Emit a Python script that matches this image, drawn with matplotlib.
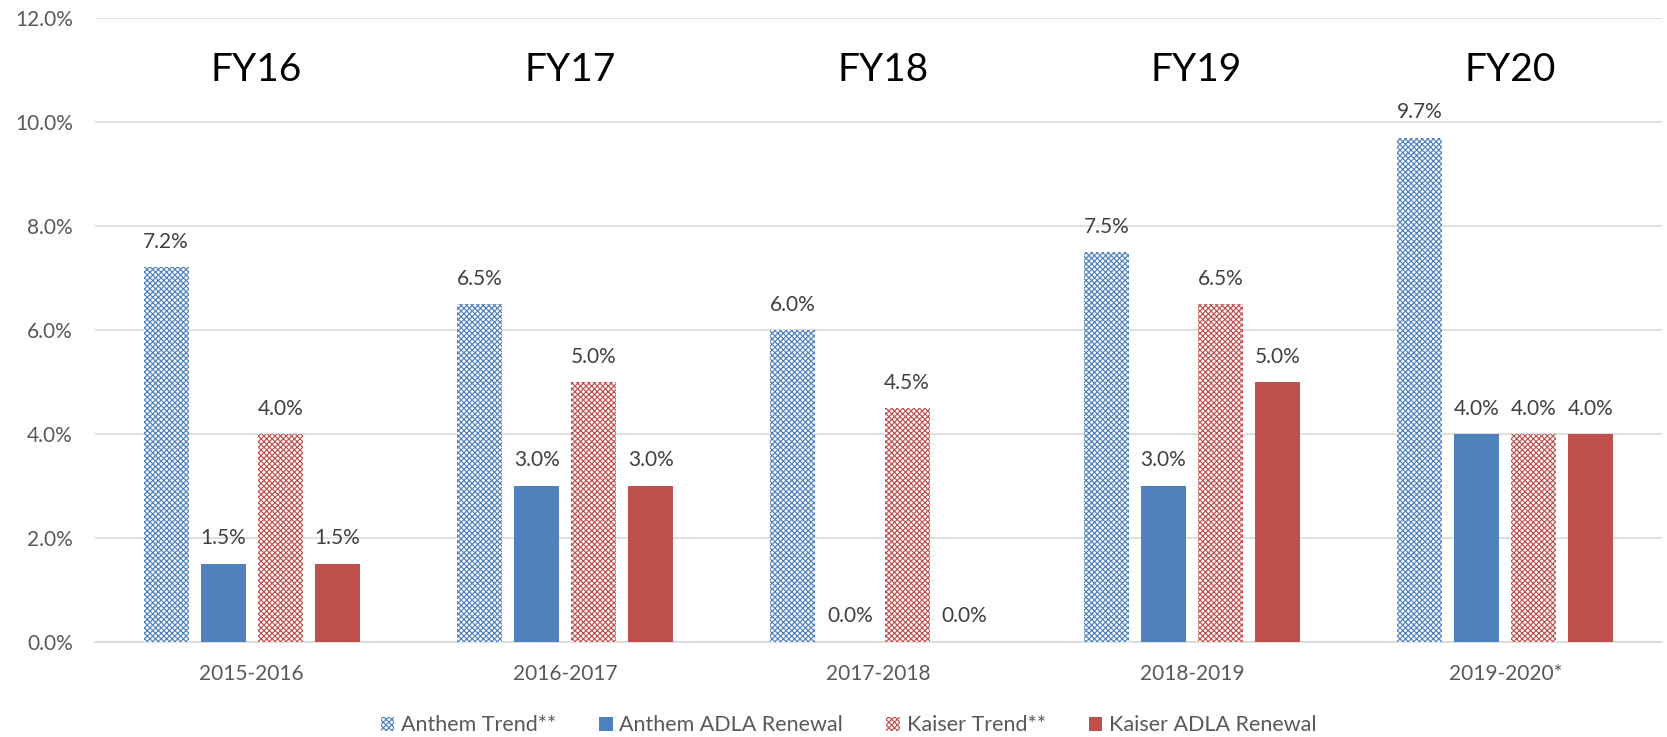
import numpy as np
import matplotlib
matplotlib.use("Agg")
import matplotlib.pyplot as plt
from matplotlib.patches import Patch

# --- Data ---
periods = ["2015-2016", "2016-2017", "2017-2018", "2018-2019", "2019-2020*"]
fiscal_years = ["FY16", "FY17", "FY18", "FY19", "FY20"]
anthem_trend = [7.2, 6.5, 6.0, 7.5, 9.7]
anthem_adla = [1.5, 3.0, 0.0, 3.0, 4.0]
kaiser_trend = [4.0, 5.0, 4.5, 6.5, 4.0]
kaiser_adla = [1.5, 3.0, 0.0, 5.0, 4.0]
series_names = ["Anthem Trend**", "Anthem ADLA Renewal", "Kaiser Trend**", "Kaiser ADLA Renewal"]

blue = "#4F81BD"
red = "#C0504D"
label_col = "#404040"
tick_col = "#595959"

plt.rcParams["font.family"] = ["Lato", "DejaVu Sans"]
plt.rcParams["hatch.linewidth"] = 0.85

fig = plt.figure(figsize=(16.67, 7.37), dpi=100)
ax = fig.add_axes([0.057, 0.1293, 0.940, 0.8463])

x = np.arange(len(periods))
width = 0.1436
pitch = 0.182
offsets = (np.arange(4) - 1.5) * pitch

series = [anthem_trend, anthem_adla, kaiser_trend, kaiser_adla]
styles = [
    dict(facecolor="white", edgecolor=blue, hatch="xxxxxx", linewidth=0),
    dict(facecolor=blue, edgecolor="none"),
    dict(facecolor="white", edgecolor=red, hatch="xxxxxx", linewidth=0),
    dict(facecolor=red, edgecolor="none"),
]

for vals, off, st in zip(series, offsets, styles):
    bars = ax.bar(x + off, vals, width, zorder=3, **st)
    for b, v in zip(bars, vals):
        ax.annotate(f"{v:.1f}%", xy=(b.get_x() + b.get_width() / 2, v),
                    xytext=(0, 11), textcoords="offset points",
                    ha="center", va="bottom", fontsize=15, color=label_col)

# fiscal-year headings
for xi, fy in zip(x, fiscal_years):
    ax.text(xi + 0.015, 10.99, fy, ha="center", va="center", fontsize=28, color="black")

ax.set_xlim(-0.5, len(periods) - 0.5)
ax.set_ylim(0, 12)
ax.set_yticks(np.arange(0, 12.1, 2))
ax.set_yticklabels([f"{t:.1f}%" for t in np.arange(0, 12.1, 2)])
ax.set_xticks(x)
ax.set_xticklabels(periods)
ax.tick_params(axis="both", length=0, labelsize=15, colors=tick_col)
ax.tick_params(axis="y", pad=16)
ax.tick_params(axis="x", pad=16)
ax.grid(axis="y", color="#D9D9D9", linewidth=1.2, zorder=0)
for s in ["top", "right", "left"]:
    ax.spines[s].set_visible(False)
ax.spines["bottom"].set_color("#D9D9D9")
ax.spines["bottom"].set_linewidth(1.2)

handles = [Patch(**st, label=n) for st, n in zip(styles, series_names)]
fig.legend(handles=handles, loc="center", bbox_to_anchor=(0.509, 0.016), ncol=4,
           frameon=False, fontsize=15.5, handlelength=0.64, handleheight=0.64,
           handletextpad=0.3, columnspacing=2.0, labelcolor=tick_col,
           borderpad=0, borderaxespad=0)

fig.savefig("out.png", dpi=100)
